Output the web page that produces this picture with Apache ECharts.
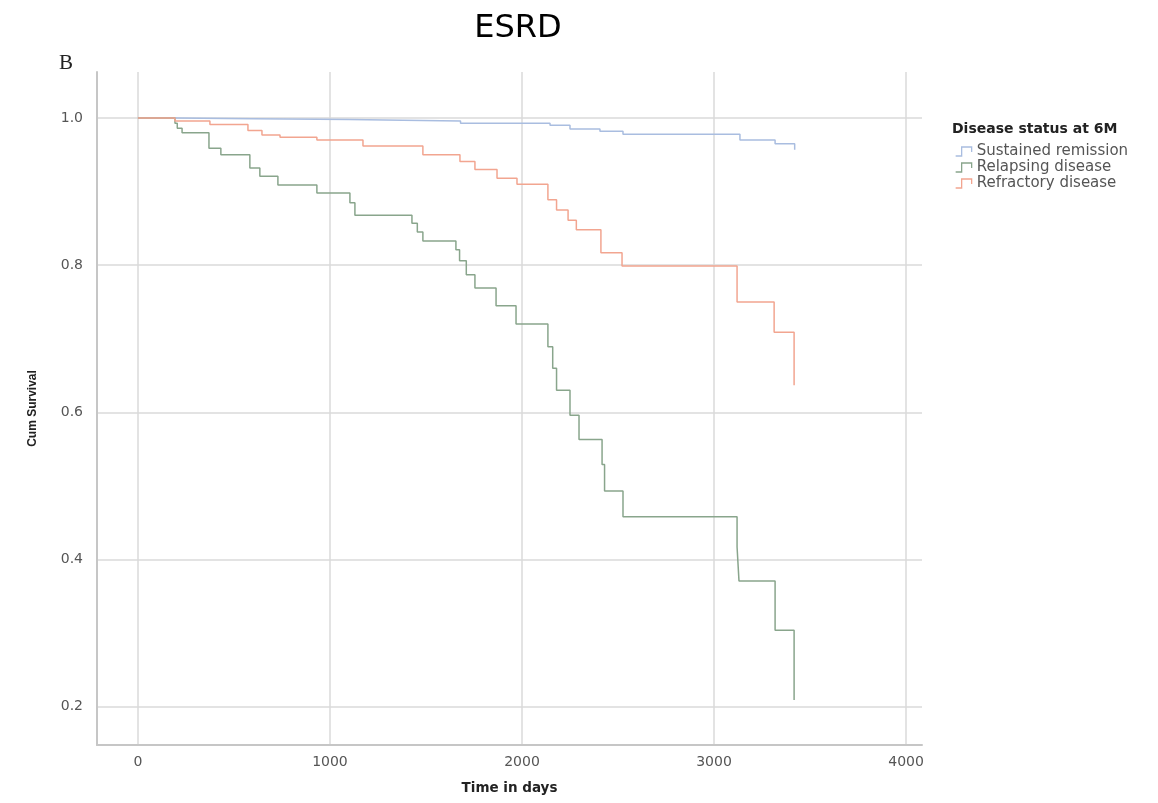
<!DOCTYPE html>
<html>
<head>
<meta charset="utf-8">
<script src="https://cdn.jsdelivr.net/npm/echarts@6/dist/echarts.min.js"></script>
<style>
html,body{margin:0;padding:0;background:#fff;}
#chart{width:1158px;height:803px;}
</style>
</head>
<body>
<div id="chart"></div>
<script>
// ---- data ----
const seriesNames = ['Sustained remission', 'Relapsing disease', 'Refractory disease'];

const sustainedTimes = [0, 200, 600, 1100, 1380, 1680, 2146, 2250, 2406, 2526, 3135, 3318, 3420];
const sustainedSurv  = [1.0, 0.999, 0.998, 0.997, 0.996, 0.993, 0.990, 0.985, 0.982, 0.978, 0.970, 0.965, 0.957];

const relapsingTimes = [0, 193, 205, 230, 370, 432, 583, 635, 729, 932, 1104, 1130, 1427, 1455, 1484, 1656, 1675, 1710, 1755, 1865, 1969, 2135, 2160, 2180, 2250, 2297, 2417, 2430, 2526, 3120, 3130, 3318, 3417];
const relapsingSurv  = [1.0, 0.993, 0.986, 0.980, 0.959, 0.950, 0.932, 0.921, 0.909, 0.898, 0.885, 0.868, 0.857, 0.845, 0.833, 0.821, 0.806, 0.787, 0.769, 0.745, 0.720, 0.689, 0.660, 0.630, 0.596, 0.563, 0.529, 0.493, 0.458, 0.417, 0.371, 0.304, 0.209];

const refractoryTimes = [0, 193, 375, 573, 646, 740, 932, 1172, 1484, 1677, 1755, 1870, 1974, 2135, 2180, 2240, 2283, 2411, 2521, 3120, 3313, 3417];
const refractorySurv  = [1.0, 0.996, 0.991, 0.983, 0.977, 0.974, 0.970, 0.962, 0.950, 0.941, 0.930, 0.918, 0.910, 0.889, 0.875, 0.861, 0.848, 0.817, 0.799, 0.750, 0.709, 0.637];

const xTicks = [0, 1000, 2000, 3000, 4000];
const yTicks = [0.2, 0.4, 0.6, 0.8, 1.0];

// ---- build ----
function pairs(t, s) { return t.map((v, i) => [v, s[i]]); }
const colors = ['#a9bde0', '#89a58c', '#f2a590'];
const stepIcon = 'path://M0,10 L6,10 L6,1 L16,1 L16,6';

const chart = echarts.init(document.getElementById('chart'), null, {renderer: 'canvas'});
const option = {
  backgroundColor: '#ffffff',
  animation: false,
  title: [
    {text: 'ESRD', left: 513, top: 8, textAlign: 'center',
     textStyle: {fontFamily: 'DejaVu Sans', fontSize: 32, fontWeight: 'normal', color: '#000'}},
    {text: 'B', left: 54, top: 48,
     textStyle: {fontFamily: 'Liberation Serif', fontSize: 21, fontWeight: 'normal', color: '#222'}},
    {text: 'Disease status at 6M', left: 947, top: 117,
     textStyle: {fontFamily: 'DejaVu Sans', fontSize: 14, fontWeight: 'bold', color: '#222'}}
  ],
  color: colors,
  legend: {
    orient: 'vertical',
    left: 950, top: 139,
    itemGap: 1,
    itemWidth: 16, itemHeight: 9,
    textStyle: {fontFamily: 'DejaVu Sans', fontSize: 15, color: '#555', lineHeight: 15},
    data: seriesNames.map((n, i) => ({
      name: n,
      icon: stepIcon,
      itemStyle: {color: 'rgba(255,255,255,0)', borderColor: colors[i], borderWidth: 1.3}
    }))
  },
  grid: {left: 97, top: 72, right: 236, bottom: 58, containLabel: false},
  xAxis: {
    type: 'value',
    min: -213, max: 4083,
    name: 'Time in days', nameLocation: 'middle', nameGap: 36,
    nameTextStyle: {fontFamily: 'DejaVu Sans', fontSize: 13.5, fontWeight: 'bold', color: '#222'},
    axisLine: {show: true, onZero: false, lineStyle: {color: '#c6c6c6', width: 2}},
    axisTick: {show: false},
    axisLabel: {
      fontFamily: 'DejaVu Sans', fontSize: 14, color: '#555', margin: 10,
      showMinLabel: false, showMaxLabel: false,
      formatter: v => xTicks.includes(v) ? String(v) : ''
    },
    splitLine: {show: true, showMinLine: false, showMaxLine: false, lineStyle: {color: '#dadada', width: 1.5}}
  },
  yAxis: {
    type: 'value',
    min: 0.148, max: 1.0625,
    name: 'Cum Survival', nameLocation: 'middle', nameGap: 58,
    nameTextStyle: {fontFamily: 'Liberation Sans', fontSize: 12, fontWeight: 'bold', color: '#222'},
    axisLine: {show: true, onZero: false, lineStyle: {color: '#c6c6c6', width: 2}},
    axisTick: {show: false},
    axisLabel: {
      fontFamily: 'DejaVu Sans', fontSize: 14, color: '#555', margin: 14,
      showMinLabel: false, showMaxLabel: false,
      formatter: v => yTicks.some(t => Math.abs(t - v) < 1e-6) ? v.toFixed(1) : ''
    },
    splitLine: {show: true, showMinLine: false, showMaxLine: false, lineStyle: {color: '#dadada', width: 1.5}}
  },
  series: [
    {name: seriesNames[0], type: 'line', step: 'end', showSymbol: false, symbol: 'none',
     data: pairs(sustainedTimes, sustainedSurv), lineStyle: {width: 1.5, color: colors[0]}, z: 3},
    {name: seriesNames[1], type: 'line', step: 'end', showSymbol: false, symbol: 'none',
     data: pairs(relapsingTimes, relapsingSurv), lineStyle: {width: 1.5, color: colors[1]}, z: 4},
    {name: seriesNames[2], type: 'line', step: 'end', showSymbol: false, symbol: 'none',
     data: pairs(refractoryTimes, refractorySurv), lineStyle: {width: 1.5, color: colors[2]}, z: 5}
  ]
};
chart.setOption(option);
</script>
</body>
</html>
